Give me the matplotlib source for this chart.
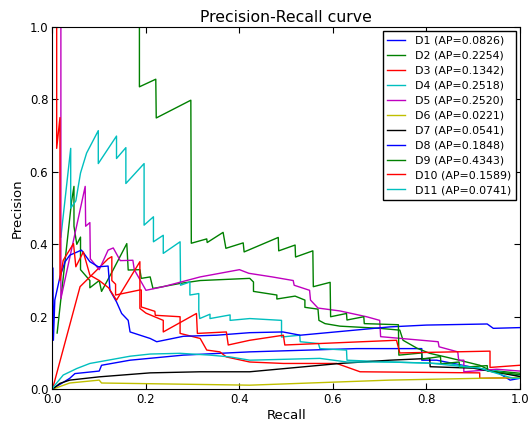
import matplotlib
matplotlib.use('Agg')
import matplotlib.pyplot as plt

# --- data (recall, precision) ---
labels = ['D1', 'D2', 'D3', 'D4', 'D5', 'D6', 'D7', 'D8', 'D9', 'D10', 'D11']
ap_values = [0.0826, 0.2254, 0.1342, 0.2518, 0.2520, 0.0221, 0.0541, 0.1848, 0.4343, 0.1589, 0.0741]
colors = ['b', 'g', 'r', 'c', 'm', 'y', 'k', 'b', 'g', 'r', 'c']

d1_r = [0, 0.002, 0.037, 0.048, 0.10, 0.105, 0.166, 0.28, 0.422, 0.55, 0.65, 0.79, 0.79, 0.822, 0.893, 0.95, 0.979, 1.0]
d1_p = [0, 0.002, 0.03, 0.043, 0.05, 0.066, 0.08, 0.094, 0.103, 0.108, 0.112, 0.112, 0.08, 0.08, 0.062, 0.048, 0.025, 0.03]

d2_r = [0.01, 0.041, 0.046, 0.046, 0.052, 0.06, 0.06, 0.08, 0.08, 0.10, 0.105, 0.13, 0.159, 0.162, 0.187, 0.19, 0.209, 0.215,
        0.273, 0.316, 0.422, 0.43, 0.43, 0.48, 0.48, 0.519, 0.54, 0.54, 0.568, 0.57, 0.583, 0.615, 0.70, 0.743, 0.75, 0.78,
        0.807, 0.844, 0.87, 0.914, 0.936, 1.0]
d2_p = [0.155, 0.52, 0.56, 0.45, 0.40, 0.42, 0.33, 0.30, 0.28, 0.30, 0.27, 0.33, 0.402, 0.329, 0.33, 0.306, 0.31, 0.278,
        0.292, 0.30, 0.306, 0.296, 0.27, 0.26, 0.249, 0.257, 0.246, 0.226, 0.221, 0.19, 0.181, 0.174, 0.168, 0.163, 0.135, 0.113,
        0.099, 0.088, 0.08, 0.066, 0.052, 0.044]

d3_r = [0, 0.059, 0.119, 0.127, 0.127, 0.135, 0.135, 0.187, 0.19, 0.19, 0.219, 0.22, 0.273, 0.273, 0.316, 0.33, 0.358,
        0.372, 0.422, 0.494, 0.608, 0.658, 0.914, 0.914, 1.0]
d3_p = [0, 0.283, 0.36, 0.366, 0.30, 0.29, 0.26, 0.274, 0.274, 0.227, 0.215, 0.204, 0.20, 0.154, 0.14, 0.108, 0.103,
        0.089, 0.075, 0.071, 0.071, 0.048, 0.045, 0.03, 0.032]

d4_r = [0.018, 0.039, 0.039, 0.05, 0.06, 0.073, 0.098, 0.098, 0.137, 0.137, 0.157, 0.157, 0.196, 0.196, 0.216, 0.216,
        0.237, 0.237, 0.273, 0.274, 0.294, 0.294, 0.313, 0.313, 0.315, 0.337, 0.337, 0.38, 0.38, 0.422, 0.49, 0.49,
        0.529, 0.53, 0.569, 0.572, 0.629, 0.63, 0.722, 0.85, 0.95, 1.0]
d4_p = [0.42, 0.665, 0.50, 0.52, 0.597, 0.652, 0.714, 0.623, 0.699, 0.637, 0.667, 0.568, 0.623, 0.453, 0.476, 0.407,
        0.425, 0.375, 0.407, 0.287, 0.296, 0.26, 0.264, 0.218, 0.195, 0.207, 0.195, 0.205, 0.19, 0.195, 0.19, 0.144,
        0.149, 0.131, 0.126, 0.112, 0.108, 0.08, 0.075, 0.07, 0.05, 0.035]

d5_r = [0.018, 0.018, 0.07, 0.071, 0.08, 0.081, 0.10, 0.119, 0.13, 0.145, 0.172, 0.175, 0.20, 0.237, 0.316, 0.40, 0.42,
        0.47, 0.515, 0.517, 0.55, 0.552, 0.568, 0.615, 0.672, 0.70, 0.702, 0.825, 0.827, 0.867, 0.869, 0.88, 0.88, 0.95, 1.0]
d5_p = [1.0, 0.25, 0.56, 0.45, 0.46, 0.36, 0.33, 0.384, 0.39, 0.355, 0.356, 0.33, 0.273, 0.283, 0.31, 0.33, 0.32,
        0.31, 0.30, 0.287, 0.273, 0.246, 0.224, 0.216, 0.20, 0.19, 0.145, 0.131, 0.117, 0.103, 0.08, 0.08, 0.048, 0.055, 0.05]

d6_r = [0, 0.037, 0.10, 0.105, 0.422, 0.722, 0.914, 1.0]
d6_p = [0, 0.017, 0.025, 0.017, 0.011, 0.025, 0.03, 0.032]

d7_r = [0, 0.016, 0.037, 0.10, 0.209, 0.316, 0.422, 0.615, 0.722, 0.807, 0.808, 0.9, 1.0]
d7_p = [0, 0.016, 0.025, 0.034, 0.045, 0.048, 0.048, 0.071, 0.08, 0.085, 0.062, 0.058, 0.035]

d8_r = [0.001, 0.002, 0.005, 0.016, 0.027, 0.037, 0.062, 0.07, 0.08, 0.098, 0.119, 0.123, 0.137, 0.148, 0.162, 0.166,
        0.209, 0.223, 0.28, 0.351, 0.422, 0.493, 0.53, 0.722, 0.80, 0.93, 0.943, 1.0]
d8_p = [0.334, 0.135, 0.246, 0.31, 0.352, 0.37, 0.384, 0.37, 0.352, 0.338, 0.34, 0.273, 0.241, 0.209, 0.19, 0.158,
        0.14, 0.131, 0.146, 0.149, 0.156, 0.158, 0.149, 0.172, 0.177, 0.18, 0.168, 0.17]

d9_r = [0, 0.186, 0.186, 0.221, 0.222, 0.296, 0.297, 0.33, 0.331, 0.365, 0.371, 0.408, 0.41, 0.483, 0.484, 0.519, 0.52,
        0.557, 0.558, 0.594, 0.595, 0.629, 0.63, 0.666, 0.667, 0.74, 0.741, 0.79, 0.791, 0.83, 0.831, 0.87, 0.871, 0.93,
        0.931, 1.0]
d9_p = [1.0, 1.0, 0.835, 0.856, 0.749, 0.798, 0.403, 0.415, 0.405, 0.433, 0.389, 0.404, 0.379, 0.419, 0.382, 0.398, 0.365,
        0.382, 0.283, 0.295, 0.20, 0.209, 0.191, 0.20, 0.181, 0.178, 0.094, 0.10, 0.083, 0.09, 0.07, 0.075, 0.06, 0.065,
        0.05, 0.04]

d10_r = [0.009, 0.009, 0.016, 0.016, 0.023, 0.045, 0.05, 0.066, 0.08, 0.10, 0.12, 0.137, 0.187, 0.187, 0.2, 0.237, 0.237,
         0.308, 0.31, 0.372, 0.376, 0.422, 0.494, 0.497, 0.736, 0.743, 0.936, 0.936, 1.0]
d10_p = [1.0, 0.665, 0.75, 0.30, 0.356, 0.402, 0.338, 0.379, 0.315, 0.30, 0.28, 0.246, 0.352, 0.223, 0.21, 0.19, 0.158,
         0.209, 0.154, 0.158, 0.122, 0.135, 0.149, 0.122, 0.135, 0.10, 0.105, 0.06, 0.066]

d11_r = [0, 0.002, 0.023, 0.052, 0.08, 0.119, 0.166, 0.209, 0.273, 0.337, 0.38, 0.422, 0.572, 0.63, 0.722, 0.807, 0.866,
         0.914, 0.985, 1.0]
d11_p = [0, 0.006, 0.039, 0.057, 0.071, 0.08, 0.091, 0.097, 0.099, 0.094, 0.089, 0.08, 0.085, 0.075, 0.075, 0.072, 0.064,
         0.058, 0.03, 0.03]

recalls = [d1_r, d2_r, d3_r, d4_r, d5_r, d6_r, d7_r, d8_r, d9_r, d10_r, d11_r]
precisions = [d1_p, d2_p, d3_p, d4_p, d5_p, d6_p, d7_p, d8_p, d9_p, d10_p, d11_p]

# --- plot ---
plt.rcParams['font.family'] = 'DejaVu Sans'
fig = plt.figure(figsize=(5.3, 4.23), dpi=100)
ax = fig.add_axes([0.099, 0.080, 0.882, 0.856])

for name, ap, col, r, p in zip(labels, ap_values, colors, recalls, precisions):
    ax.plot(r, p, color=col, lw=1.0, label=f'{name} (AP={ap:.4f})')

ax.set_xlim(0, 1)
ax.set_ylim(0, 1)
ax.set_xticks([0, 0.2, 0.4, 0.6, 0.8, 1.0])
ax.set_yticks([0, 0.2, 0.4, 0.6, 0.8, 1.0])
ax.tick_params(direction='in', top=True, right=True, length=4, labelsize=8.5, pad=3)
ax.set_xlabel('Recall', fontsize=9.5, labelpad=2)
ax.set_ylabel('Precision', fontsize=9.5, labelpad=4)
ax.set_title('Precision-Recall curve', fontsize=11.3, pad=4)

leg = ax.legend(loc='upper right', fontsize=7.9, fancybox=False, framealpha=1,
                edgecolor='k', handlelength=1.6, handletextpad=0.9, labelspacing=0.45,
                borderpad=0.45, borderaxespad=0.35)
leg.get_frame().set_linewidth(1.0)

plt.savefig('out.png', dpi=100)
